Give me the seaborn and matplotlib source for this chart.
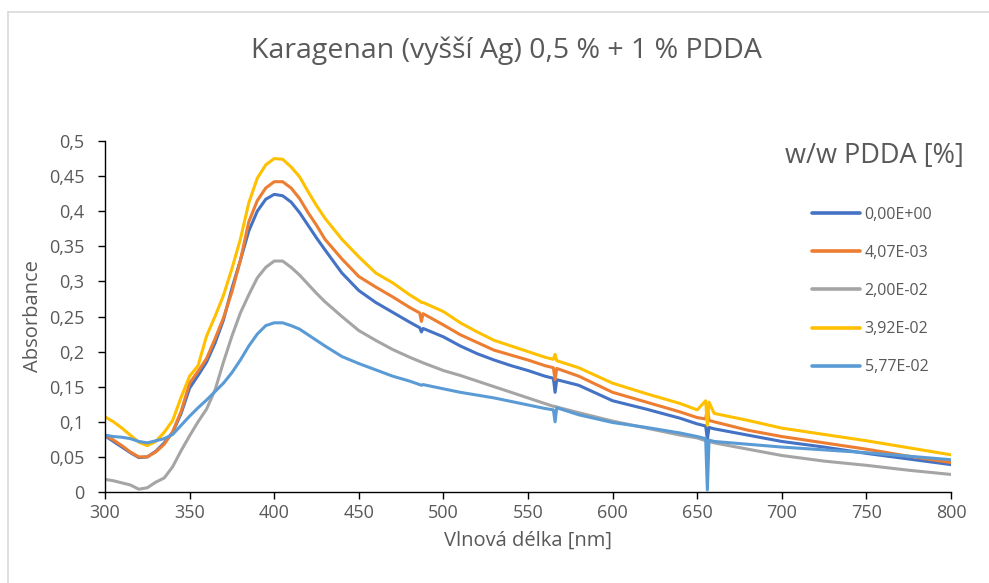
import pandas as pd
import matplotlib
matplotlib.use("Agg")
import matplotlib.pyplot as plt
import seaborn as sns
from matplotlib.ticker import FuncFormatter, MultipleLocator
from matplotlib.lines import Line2D

# -------------------------------
# DATA
# -------------------------------
wavelength = [300, 305, 310, 315, 320, 325, 330, 335, 340, 345, 350, 355, 360, 365, 370,
              375, 380, 385, 390, 395, 400, 405, 410, 415, 420, 425, 430, 440, 450, 460,
              470, 480, 486, 487, 488, 500, 510, 520, 530, 540, 550, 560, 565, 566, 567,
              580, 600, 620, 640, 650, 655, 656, 657, 660, 680, 700, 725, 750, 775, 800]

abs_000 = [0.080, 0.072, 0.064, 0.056, 0.049, 0.050, 0.058, 0.070, 0.085, 0.112, 0.148, 0.166,
           0.185, 0.212, 0.245, 0.290, 0.330, 0.372, 0.400, 0.417, 0.424, 0.422, 0.413, 0.398,
           0.380, 0.362, 0.345, 0.312, 0.287, 0.270, 0.256, 0.242, 0.234, 0.228, 0.233, 0.221,
           0.208, 0.197, 0.188, 0.180, 0.173, 0.165, 0.162, 0.142, 0.160, 0.152, 0.130, 0.118,
           0.105, 0.097, 0.094, 0.075, 0.092, 0.090, 0.081, 0.072, 0.064, 0.055, 0.047, 0.039]

abs_407 = [0.081, 0.074, 0.066, 0.057, 0.050, 0.050, 0.057, 0.068, 0.086, 0.115, 0.155, 0.172,
           0.190, 0.218, 0.248, 0.285, 0.330, 0.385, 0.415, 0.433, 0.442, 0.442, 0.433, 0.418,
           0.398, 0.380, 0.360, 0.332, 0.307, 0.292, 0.278, 0.263, 0.255, 0.243, 0.254, 0.238,
           0.224, 0.213, 0.202, 0.195, 0.188, 0.180, 0.177, 0.160, 0.176, 0.165, 0.142, 0.128,
           0.114, 0.106, 0.104, 0.120, 0.102, 0.100, 0.088, 0.079, 0.070, 0.061, 0.051, 0.042]

abs_200 = [0.018, 0.016, 0.013, 0.010, 0.004, 0.006, 0.014, 0.020, 0.036, 0.059, 0.080, 0.100,
           0.118, 0.145, 0.185, 0.222, 0.255, 0.281, 0.305, 0.320, 0.329, 0.329, 0.320, 0.309,
           0.296, 0.283, 0.271, 0.250, 0.230, 0.216, 0.203, 0.192, 0.186, 0.185, 0.184, 0.173,
           0.166, 0.158, 0.150, 0.142, 0.134, 0.126, 0.122, 0.122, 0.121, 0.113, 0.101, 0.091,
           0.081, 0.077, 0.073, 0.072, 0.072, 0.070, 0.061, 0.052, 0.044, 0.038, 0.031, 0.025]

abs_392 = [0.107, 0.100, 0.091, 0.081, 0.071, 0.066, 0.072, 0.085, 0.102, 0.135, 0.165, 0.180,
           0.222, 0.250, 0.280, 0.318, 0.360, 0.412, 0.447, 0.466, 0.475, 0.474, 0.463, 0.449,
           0.428, 0.408, 0.390, 0.360, 0.335, 0.312, 0.298, 0.281, 0.272, 0.270, 0.270, 0.257,
           0.241, 0.228, 0.216, 0.208, 0.200, 0.192, 0.189, 0.196, 0.187, 0.177, 0.155, 0.140,
           0.126, 0.117, 0.130, 0.095, 0.128, 0.112, 0.102, 0.091, 0.082, 0.073, 0.063, 0.053]

abs_577 = [0.081, 0.079, 0.078, 0.076, 0.072, 0.070, 0.073, 0.076, 0.082, 0.095, 0.108, 0.120,
           0.131, 0.143, 0.155, 0.170, 0.188, 0.208, 0.225, 0.237, 0.241, 0.241, 0.237, 0.232,
           0.224, 0.216, 0.208, 0.193, 0.183, 0.174, 0.165, 0.158, 0.153, 0.152, 0.153, 0.147,
           0.142, 0.138, 0.134, 0.129, 0.124, 0.119, 0.117, 0.100, 0.120, 0.110, 0.099, 0.092,
           0.084, 0.079, 0.076, 0.003, 0.074, 0.072, 0.068, 0.064, 0.060, 0.056, 0.051, 0.046]

labels = ["0,00E+00", "4,07E-03", "2,00E-02", "3,92E-02", "5,77E-02"]
series = [abs_000, abs_407, abs_200, abs_392, abs_577]
colors = ["#4472C4", "#ED7D31", "#A5A5A5", "#FFC000", "#5B9BD5"]

df = pd.concat(
    [pd.DataFrame({"wl": wavelength, "A": vals, "PDDA": lab}) for lab, vals in zip(labels, series)],
    ignore_index=True,
)

# -------------------------------
# STYLE
# -------------------------------
sns.set_theme(style="white")
plt.rcParams["font.family"] = ["Open Sans", "DejaVu Sans"]
GREY = "#595959"

fig = plt.figure(figsize=(9.89, 5.83), dpi=100)
ax = fig.add_axes([105 / 989, 1 - 492 / 583, 846 / 989, 351 / 583])

sns.lineplot(data=df, x="wl", y="A", hue="PDDA", hue_order=labels, palette=colors,
             estimator=None, sort=False, linewidth=2.2, ax=ax)

ax.set_xlim(300, 800)
ax.set_ylim(0, 0.5)
ax.xaxis.set_major_locator(MultipleLocator(50))
ax.yaxis.set_major_locator(MultipleLocator(0.05))
ax.yaxis.set_major_formatter(FuncFormatter(lambda v, p: f"{v:g}".replace(".", ",")))

for side in ["top", "right"]:
    ax.spines[side].set_visible(False)
for side in ["left", "bottom"]:
    ax.spines[side].set_color("black")
    ax.spines[side].set_linewidth(1.0)

ax.tick_params(axis="x", direction="out", length=5, width=1, color="black",
               labelsize=13, labelcolor=GREY, pad=4, bottom=True)
ax.tick_params(axis="y", direction="out", length=5, width=1, color="black",
               labelsize=13, labelcolor=GREY, pad=10, left=True)

ax.set_xlabel("Vlnová délka [nm]", fontsize=14.5, color=GREY, labelpad=6)
ax.set_ylabel("Absorbance", fontsize=14.5, color=GREY, labelpad=4)

fig.text(506 / 989, 1 - 51 / 583, "Karagenan (vyšší Ag) 0,5 % + 1 % PDDA",
         ha="center", va="center", fontsize=20.5, color=GREY)

# legend: title as separate text, entries from seaborn handles
handles, labs = ax.get_legend_handles_labels()
ax.get_legend().remove()
for h in handles:
    h.set_linewidth(2.6)
fig.text(874 / 989, 1 - 156 / 583, "w/w PDDA [%]", ha="center", va="center",
         fontsize=19.5, color=GREY)
fig.legend(handles, labs, loc="upper left", bbox_to_anchor=(812 / 989, 1 - 207 / 583),
           frameon=False, fontsize=11.5, labelcolor=GREY, handlelength=3.0,
           handletextpad=0.3, labelspacing=1.38, borderpad=0, borderaxespad=0)

# chart-area border (light grey, Excel style)
fig.add_artist(Line2D([8 / 989, 8 / 989], [0, 1 - 12 / 583], transform=fig.transFigure,
                      color="#D9D9D9", linewidth=1.2))
fig.add_artist(Line2D([8 / 989, 1], [1 - 12 / 583, 1 - 12 / 583], transform=fig.transFigure,
                      color="#D9D9D9", linewidth=1.2))

fig.savefig("out.png", dpi=100)
